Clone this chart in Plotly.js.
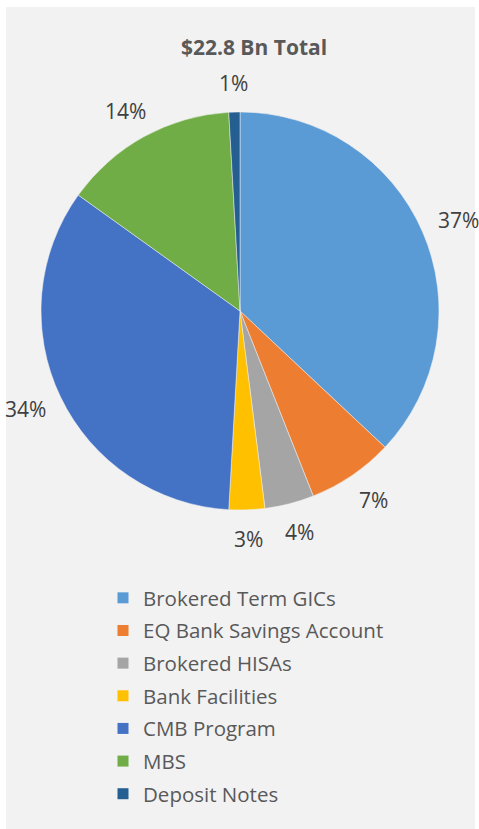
<!DOCTYPE html>
<html>
<head>
<meta charset="utf-8">
<script src="https://cdn.plot.ly/plotly-3.0.1.min.js"></script>
<style>html,body{margin:0;padding:0;background:#fff;}#chart{width:479px;height:829px;}</style>
</head>
<body>
<div id="chart"></div>
<script>
var categories = ["Brokered Term GICs", "EQ Bank Savings Account", "Brokered HISAs", "Bank Facilities", "CMB Program", "MBS", "Deposit Notes"];
var shares = [37.0, 7.0, 4.0, 2.9, 34.0, 14.2, 0.9];
var colors = ["#5B9BD5", "#ED7D31", "#A5A5A5", "#FFC000", "#4472C4", "#70AD47", "#255E91"];
var chartTitle = "$22.8 Bn Total";

var W = 479, H = 829;
var cx = 240, cy = 311, r = 199;
var labelR0 = 218;
var LBL_W = 40, LBL_H = 20;
var FONT = "Open Sans, sans-serif";

var total = shares.reduce(function(a, b){ return a + b; }, 0);
var annotations = [];
var cum = 0;
for (var i = 0; i < shares.length; i++) {
  var mid = (cum + shares[i] / 2) / total * 2 * Math.PI;
  cum += shares[i];
  var s = Math.sin(mid), c = Math.cos(mid);
  var px = cx + labelR0 * s + (LBL_W / 2) * s;
  var py = cy - labelR0 * c - (LBL_H / 2) * c;
  annotations.push({
    xref: "paper", yref: "paper",
    x: px / W, y: 1 - py / H,
    xanchor: "center", yanchor: "middle",
    text: Math.round(shares[i] / total * 100) + "%",
    showarrow: false,
    font: {family: FONT, size: 21, color: "#404040"}
  });
}

var data = [{
  type: "pie",
  labels: categories,
  values: shares,
  sort: false,
  direction: "clockwise",
  rotation: 0,
  textinfo: "none",
  hoverinfo: "label+percent",
  showlegend: false,
  marker: {colors: colors, line: {color: "#f2f2f2", width: 0.5}},
  domain: {x: [(cx - r) / W, (cx + r) / W], y: [1 - (cy + r) / H, 1 - (cy - r) / H]}
}];

// legend entries (one per slice, so spacing between entries can be set)
for (var j = 0; j < categories.length; j++) {
  data.push({
    type: "scatter", mode: "markers",
    x: [null], y: [null],
    name: categories[j],
    legendgroup: "g" + j,
    showlegend: true,
    marker: {symbol: "square", size: 11, color: colors[j]},
    hoverinfo: "skip"
  });
}

var layout = {
  width: W, height: H,
  margin: {l: 0, r: 0, t: 0, b: 0},
  paper_bgcolor: "#ffffff",
  plot_bgcolor: "rgba(0,0,0,0)",
  xaxis: {visible: false},
  yaxis: {visible: false},
  showlegend: true,
  title: {
    text: "<b>" + chartTitle + "</b>",
    x: 254 / W, xanchor: "center", xref: "paper",
    y: 1 - 48 / H, yanchor: "middle", yref: "paper",
    font: {family: FONT, size: 21, color: "#595959"}
  },
  legend: {
    x: 103 / W, xanchor: "left",
    y: 1 - 578 / H, yanchor: "top",
    orientation: "v",
    traceorder: "grouped",
    tracegroupgap: 3,
    itemwidth: 30,
    bgcolor: "rgba(0,0,0,0)",
    font: {family: FONT, size: 20.5, color: "#595959"},
    itemclick: false
  },
  shapes: [{
    type: "rect", xref: "paper", yref: "paper", layer: "below",
    x0: 6 / W, x1: 475 / W, y0: 0, y1: 1 - 7 / H,
    fillcolor: "#f2f2f2", line: {width: 0}
  }],
  annotations: annotations
};

Plotly.newPlot("chart", data, layout, {displayModeBar: false, staticPlot: true});
</script>
</body>
</html>
